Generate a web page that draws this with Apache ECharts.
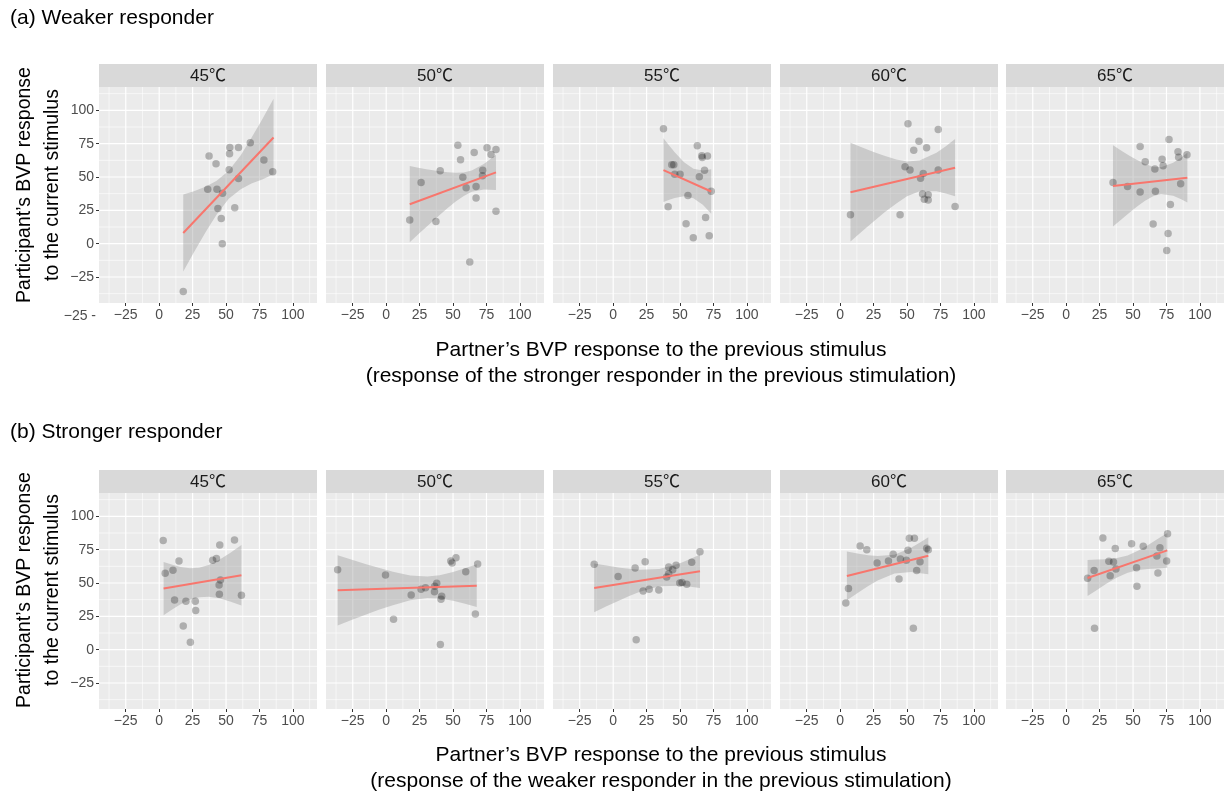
<!DOCTYPE html>
<html>
<head>
<meta charset="utf-8">
<script src="https://cdn.jsdelivr.net/npm/echarts@6/dist/echarts.min.js"></script>
<style>
  html, body { margin: 0; padding: 0; background: #fff; }
  #main { width: 1227px; height: 794px; }
</style>
</head>
<body>
<div id="main"></div>
<script>
// facet labels and tick values
const temps = ['45℃', '50℃', '55℃', '60℃', '65℃'];
const majorTicks = [-25, 0, 25, 50, 75, 100];
const minorTicks = [-37.5, -12.5, 12.5, 37.5, 62.5, 87.5, 112.5];

// (a) weaker responder: points [partner, participant]
const weak45 = [[18,-35.8],[37.3,65.7],[42.5,60],[52.8,72.1],[59.3,72.1],[68.1,75.6],[52.6,67.4],[78.3,62.7],[84.9,54],[52.3,55.5],[59.3,48.8],[36.3,40.8],[43.2,40.8],[47.4,37.8],[43.9,26.4],[56.5,26.9],[46.4,18.9],[47.2,0]];
const weak50 = [[53.6,73.9],[55.6,62.9],[65.8,68.4],[75.4,71.9],[78.4,66.9],[82.1,70.6],[40.4,54.7],[26.1,45.8],[57.3,49.8],[72.2,55],[72,51],[59.8,42],[67.2,42.8],[67.2,34.3],[17.6,17.7],[37.2,16.7],[82.1,24.4],[62.5,-13.7]];
const weak55 = [[37.6,86.1],[62.9,73.4],[66.3,65.9],[70.5,65.7],[66.6,64.7],[43.8,59.2],[45.3,59.2],[46,52],[50,52],[68.3,55],[64.4,50.2],[73.3,39.3],[55.9,36.1],[41.1,27.6],[69.1,19.7],[54.5,14.9],[71.8,6],[59.9,4.5]];
const weak60 = [[50.7,90],[73.3,85.6],[58.9,76.9],[55,70.1],[64.6,71.9],[48.5,57.7],[52.2,55.2],[62.1,52.7],[60.1,49],[73.3,55.2],[61.6,37.3],[65.8,36.6],[62.9,33.3],[65.8,32.8],[7.7,21.6],[44.8,21.6],[85.9,27.9]];
const weak65 = [[76.9,78.1],[55.3,72.9],[83.6,68.9],[84.1,64.9],[90.3,66.7],[71.7,63.4],[59.1,61.4],[72.5,58.5],[66.3,56],[35,45.8],[45.9,42.8],[55.3,38.8],[66.7,39.3],[85.6,45],[77.9,29.4],[65,14.7],[76.2,7.7],[75.2,-5.2]];

// (b) stronger responder
const strong45 = [[3,81.8],[56.3,82.3],[45.3,78.5],[14.8,66.5],[40,67],[42.8,68.3],[4.5,57.3],[10.3,59.5],[45.8,52.3],[44.8,48.5],[45,41.5],[61.5,40.8],[11.5,37.3],[20,36.3],[27,36.3],[27.3,29.3],[18,17.8],[23.3,5.5]];
const strong50 = [[-36.3,60],[-0.5,56],[48.3,66.5],[49.3,65],[52.2,69],[68.4,64.3],[59.5,58.5],[37.8,49.8],[36.3,47.5],[29.4,46.5],[26.1,45.3],[36.1,43.5],[41.5,40],[41,37.8],[18.7,41],[5.5,22.8],[66.7,26.8],[40.5,3.8]];
const strong55 = [[-14.2,64],[64.9,73.5],[58.7,65.5],[23.9,66],[16.4,61.3],[3.7,54.8],[41.5,62],[47,63.3],[44.5,60],[40,54.5],[41.5,57],[49.8,50],[51.5,50.3],[55,49],[26.9,45.3],[22.4,44],[34.1,44.8],[17.2,7.5]];
const strong60 = [[14.9,77.8],[19.9,75],[51.7,83.5],[55.5,83.5],[64.7,76],[65.9,75],[50.7,74.5],[39.6,71.5],[45,68],[49.5,67],[36.1,66.5],[27.6,65],[59.7,66],[57.2,59.3],[44,53],[6.2,45.8],[4.2,35],[54.7,16]];
const strong65 = [[75.8,87],[27.4,83.8],[48.9,79.5],[36.7,75.8],[57.6,77.5],[70.1,76.5],[67.8,70.3],[75.1,66.5],[31.9,66.3],[35.4,65.8],[20.9,59.3],[37.2,60.5],[52.6,61.5],[16,53.5],[32.9,55.5],[68.6,57.5],[52.9,47.5],[21.2,16]];

// fitted lines (ends)
const weak45Fit = [[18,8],[85.5,79.6]];
const weak50Fit = [[17.6,29.6],[82.1,53.5]];
const weak55Fit = [[37.6,55.2],[73.3,39.1]];
const weak60Fit = [[7.7,38.6],[85.9,57]];
const weak65Fit = [[35,43.3],[90.6,49.5]];
const strong45Fit = [[3.3,45.8],[61.5,55.8]];
const strong50Fit = [[-36.3,44.5],[67.7,48]];
const strong55Fit = [[-14.2,46.3],[64.9,58.8]];
const strong60Fit = [[5,55.3],[65.9,70.5]];
const strong65Fit = [[16,53.8],[75.6,74.5]];

// confidence bands [x, lower, upper]
const weak45Band = [[18,-20.9,36.8],[26,-6.4,39.4],[35,9.1,42.9],[43,21.9,47.1],[52,33.6,54.6],[61,40.8,66.4],[69,45.1,79.5],[77,48.1,93.1],[85.5,52,108.7]];
const weak50Band = [[17.6,1,58.2],[24,7,57],[30,12.5,55.9],[40,21.5,54.3],[46,26.7,53.5],[52,31.6,53.2],[58,35.8,53.4],[64,38.9,54.9],[73,40.7,59.7],[82.1,40.3,66.7]];
const weak55Band = [[37.6,31.3,79.1],[42,32.9,73.5],[46,34.2,68.6],[53,35.5,61.1],[60,34.1,56.1],[67,29.2,54.8],[73.3,22.4,55.8]];
const weak60Band = [[7.7,1.6,75.6],[16,8.9,72.3],[25,16.6,68.8],[33,23.3,65.9],[42,30.2,63.2],[50,35.5,61.7],[59.3,39.3,62.3],[72,39.4,68.2],[79,37.7,73.1],[85.9,35.5,78.5]];
const weak65Band = [[35,12.8,73.8],[41,17.9,69.9],[47,23,66.2],[53,27.8,62.8],[59,32.2,59.8],[65,35.6,57.6],[70.9,37.3,57.3],[80,35.9,60.7],[86,33.3,64.7],[90.6,30.8,68.2]];
const strong45Band = [[3.3,25.8,65.8],[10,30.3,63.6],[16,34,62],[23,37.4,61],[29.9,39.4,61.4],[37,39.7,63.5],[45,38.5,67.5],[53,36.1,72.5],[61.5,33.1,78.5]];
const strong50Band = [[-36.3,18.2,70.8],[-25,22.6,67.2],[-15,26.3,64.1],[-5,30.1,61.3],[5,33.4,58.4],[18,37,55.6],[30.7,38.8,54.8],[40,38.4,55.8],[50,36.6,58.2],[59,34.4,61],[67.7,32,64]];
const strong55Band = [[-14.2,28,64.6],[-5,32.5,63.1],[5,37.1,61.5],[12,40.3,60.7],[20,43.5,59.9],[34.5,47.5,60.5],[50,47.9,64.9],[58,47.1,68.1],[64.9,46.3,71.3]];
const strong60Band = [[5,37,73.6],[10,40.4,72.6],[15,43.8,71.8],[21,47.7,70.9],[28,51.8,70.2],[40.6,57.2,71.2],[53,58.2,76.4],[60,57.4,80.6],[65.9,56.6,84.4]];
const strong65Band = [[16,40.3,67.3],[23,44.8,67.6],[30,49.5,67.9],[38,54.2,68.8],[46,57.7,70.7],[54,59.7,74.3],[61,60.5,78.3],[68,60.8,82.8],[75.6,61.5,87.5]];

const panels = [
  [weak45, weak45Fit, weak45Band], [weak50, weak50Fit, weak50Band], [weak55, weak55Fit, weak55Band],
  [weak60, weak60Fit, weak60Band], [weak65, weak65Fit, weak65Band],
  [strong45, strong45Fit, strong45Band], [strong50, strong50Fit, strong50Band], [strong55, strong55Fit, strong55Band],
  [strong60, strong60Fit, strong60Band], [strong65, strong65Fit, strong65Band]
];

const XMIN = -45, XMAX = 118, YMIN = -44.5, YMAX = 117.5;
const colLefts = [99, 326, 553, 780, 1006];
const panelW = 218;
const rowTops = [87, 493];
const panelH = 216;
const stripH = 23;
const FONT = '"Liberation Sans", "Noto Sans CJK JP", sans-serif';

const chart = echarts.init(document.getElementById('main'));

function fmt(v) { return v < 0 ? '\u2212' + Math.abs(v) : String(v); }

const grids = [], xAxes = [], yAxes = [], series = [], graphics = [];

panels.forEach(function (p, i) {
  const row = Math.floor(i / 5), col = i % 5;
  const left = colLefts[col], top = rowTops[row];
  grids.push({ left: left, top: top, width: panelW, height: panelH, show: true,
    backgroundColor: '#EBEBEB', borderWidth: 0 });
  xAxes.push({
    type: 'value', gridIndex: i, min: XMIN, max: XMAX, position: 'bottom',
    splitLine: { show: false }, axisLine: { show: false, onZero: false },
    axisTick: { show: true, customValues: majorTicks, length: 3, lineStyle: { color: '#333', width: 1 } },
    axisLabel: { customValues: majorTicks, color: '#4D4D4D', fontSize: 14, margin: 5, fontFamily: FONT, formatter: fmt }
  });
  yAxes.push({
    type: 'value', gridIndex: i, min: YMIN, max: YMAX, position: 'left',
    splitLine: { show: false }, axisLine: { show: false, onZero: false },
    axisTick: { show: col === 0, customValues: majorTicks, length: 3, lineStyle: { color: '#333', width: 1 } },
    axisLabel: { show: col === 0, customValues: majorTicks, color: '#4D4D4D', fontSize: 14, margin: 5, fontFamily: FONT, formatter: fmt }
  });

  // panel grid lines
  series.push({
    type: 'custom', xAxisIndex: i, yAxisIndex: i, silent: true, z: 1,
    data: [[0, 0]],
    renderItem: function (params, api) {
      const kids = [];
      function vline(v, w) {
        const a = api.coord([v, YMIN]), b = api.coord([v, YMAX]);
        kids.push({ type: 'line', shape: { x1: a[0], y1: a[1], x2: b[0], y2: b[1] }, style: { stroke: '#fff', lineWidth: w } });
      }
      function hline(v, w) {
        const a = api.coord([XMIN, v]), b = api.coord([XMAX, v]);
        kids.push({ type: 'line', shape: { x1: a[0], y1: a[1], x2: b[0], y2: b[1] }, style: { stroke: '#fff', lineWidth: w } });
      }
      minorTicks.forEach(function (v) { vline(v, 0.6); hline(v, 0.6); });
      majorTicks.forEach(function (v) { vline(v, 1.2); hline(v, 1.2); });
      return { type: 'group', children: kids };
    }
  });

  // confidence band
  const band = p[2];
  series.push({
    type: 'custom', xAxisIndex: i, yAxisIndex: i, silent: true, z: 2,
    data: band.map(function (r) { return [r[0], r[1]]; }),
    renderItem: function (params, api) {
      if (params.dataIndex !== 0) return;
      const pts = [];
      band.forEach(function (r) { pts.push(api.coord([r[0], r[2]])); });
      band.slice().reverse().forEach(function (r) { pts.push(api.coord([r[0], r[1]])); });
      return { type: 'polygon', shape: { points: pts }, style: { fill: 'rgba(153,153,153,0.4)' } };
    }
  });

  // points
  series.push({
    type: 'scatter', xAxisIndex: i, yAxisIndex: i, silent: true, z: 3,
    symbolSize: 7.5, data: p[0],
    itemStyle: { color: 'rgba(0,0,0,0.32)' }
  });

  // fitted line
  series.push({
    type: 'line', xAxisIndex: i, yAxisIndex: i, silent: true, z: 4,
    data: p[1], symbol: 'none', lineStyle: { color: '#F8766D', width: 2 }
  });

  // strip
  graphics.push({
    type: 'rect', shape: { x: left, y: top - stripH, width: panelW, height: stripH },
    style: { fill: '#D9D9D9' }, silent: true
  });
  graphics.push({
    type: 'text', x: left + panelW / 2, y: top - stripH / 2 + 1,
    style: { text: temps[col], fill: '#1A1A1A', fontSize: 17, fontFamily: FONT, align: 'center', verticalAlign: 'middle' }
  });
});

function txt(x, y, s, size, align, rot, lh) {
  return {
    type: 'text', x: x, y: y, rotation: rot || 0,
    style: { text: s, fill: '#000', fontSize: size, fontFamily: FONT, align: align, verticalAlign: 'middle', lineHeight: lh || Math.round(size * 1.3) }
  };
}

graphics.push(txt(10, 18, '(a) Weaker responder', 21, 'left'));
graphics.push(txt(10, 432, '(b) Stronger responder', 21, 'left'));
graphics.push(txt(39, 185, 'Participant\u2019s BVP response\nto the current stimulus', 19.5, 'center', Math.PI / 2, 28));
graphics.push(txt(39, 590, 'Participant\u2019s BVP response\nto the current stimulus', 19.5, 'center', Math.PI / 2, 28));
graphics.push(txt(661, 363, 'Partner\u2019s BVP response to the previous stimulus\n(response of the stronger responder in the previous stimulation)', 21, 'center', 0, 26));
graphics.push(txt(661, 768, 'Partner\u2019s BVP response to the previous stimulus\n(response of the weaker responder in the previous stimulation)', 21, 'center', 0, 26));
// stray tick label printed under the first top panel in the original
graphics.push({
  type: 'text', x: 96, y: 316,
  style: { text: '\u221225 -', fill: '#4D4D4D', fontSize: 14, fontFamily: FONT, align: 'right', verticalAlign: 'middle' }
});

chart.setOption({
  animation: false,
  backgroundColor: '#fff',
  grid: grids,
  xAxis: xAxes,
  yAxis: yAxes,
  series: series,
  graphic: { elements: graphics }
});
</script>
</body>
</html>
